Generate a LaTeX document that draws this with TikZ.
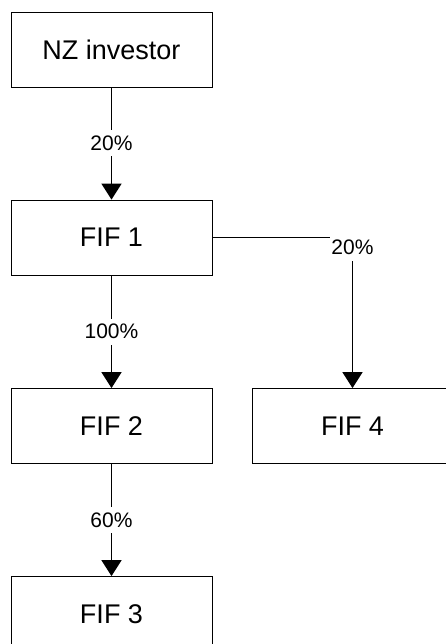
\documentclass[tikz,border=0pt]{standalone}
\usepackage{fontspec}
\setmainfont{Liberation Sans}
\usetikzlibrary{arrows.meta}

\begin{document}
\begin{tikzpicture}[x=1pt, y=-1pt,
    fund/.style={draw, line width=0.8pt, fill=white, minimum width=201pt, minimum height=75pt, font=\fontsize{27}{32}\selectfont},
    flow/.style={line width=1.6pt, -{Triangle[width=20pt, length=16pt]}},
    pct/.style={fill=white, inner xsep=1pt, inner ysep=0pt, minimum height=26pt, font=\fontsize{21}{24}\selectfont}]
                \useasboundingbox (0,0) rectangle (446,644);
                \foreach \n/\t/\x/\y in {inv/NZ investor/111.5/49.5, fif1/FIF 1/111.5/237.5, fif2/FIF 2/111.5/426, fif3/FIF 3/111.5/614, fif4/FIF 4/352.5/426}
                {
                    \node[fund] (\n) at (\x,\y) {\t};
                }
                \foreach \a/\b/\p in {inv/fif1/20\%, fif1/fif2/100\%, fif2/fif3/60\%}
                {
                    \draw[flow] (\a) -- (\b) node[midway, pct] {\p};
                }
                \draw[flow] (fif1.east) -| (fif4.north) node[pos=0.5, pct, yshift=-10pt] {20\%};
            \end{tikzpicture}
\end{document}
